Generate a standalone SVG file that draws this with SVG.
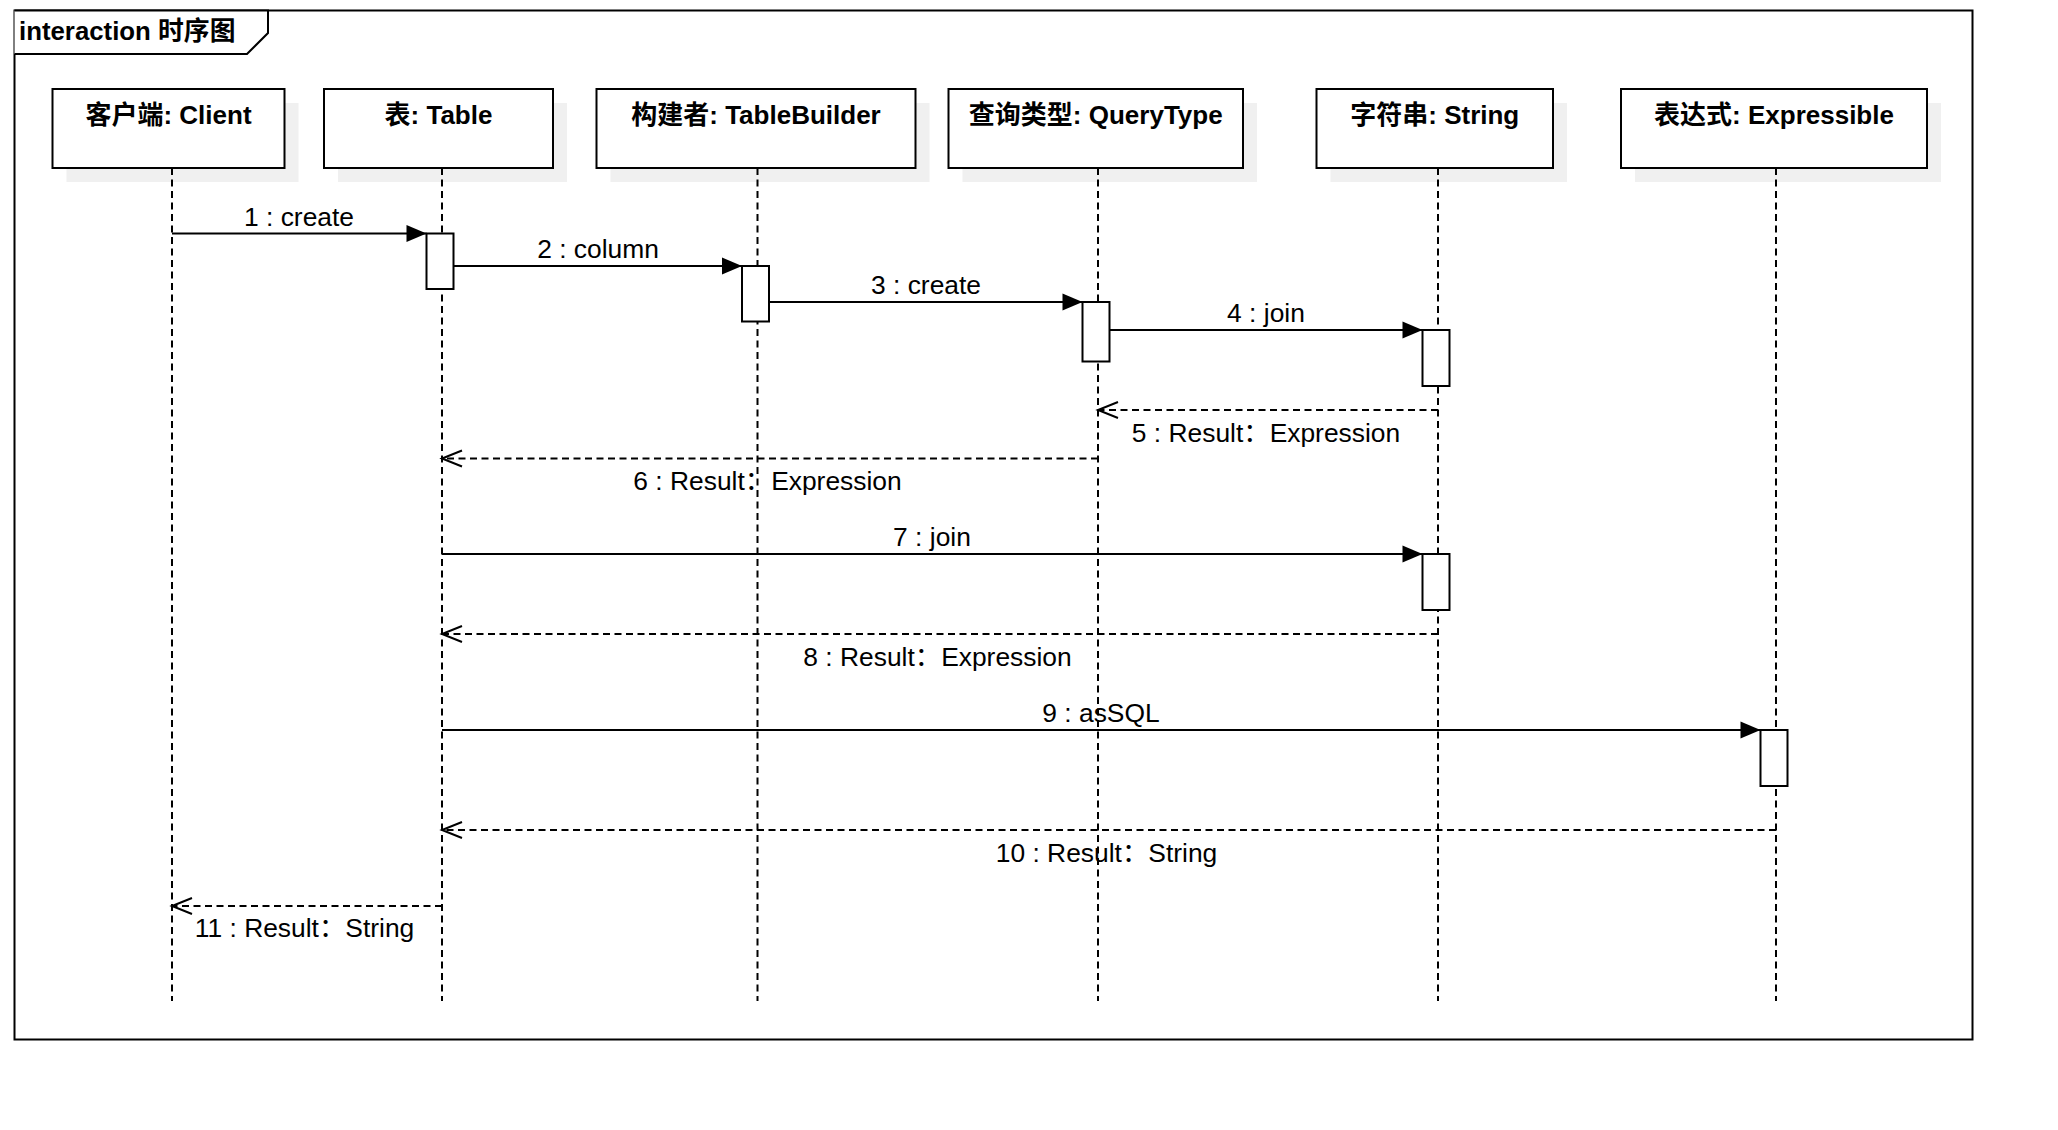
<svg xmlns="http://www.w3.org/2000/svg" width="2058" height="1130" viewBox="0 0 2058 1130">
<style>
text{font-family:"Liberation Sans","Noto Sans CJK SC",sans-serif;font-size:26px;fill:#000}
.b{font-weight:bold}
.box{fill:#fff;stroke:#000;stroke-width:2}
.sh{fill:#f0f0f0}
.life{stroke:#000;stroke-width:2;stroke-dasharray:7 4.5;fill:none}
.act{fill:#fff;stroke:#000;stroke-width:2}
.msg{stroke:#000;stroke-width:2;fill:none}
.ret{stroke:#000;stroke-width:2;stroke-dasharray:7 4.5;fill:none}
.lbl{text-anchor:middle}
.m{font-size:26.4px}
</style>
<defs>
<marker id="sync" markerUnits="userSpaceOnUse" markerWidth="22" markerHeight="18" refX="20" refY="8.5" orient="auto" overflow="visible">
<path d="M0,0 L20,8.5 L0,17 z" fill="#000"/>
</marker>
<marker id="open" markerUnits="userSpaceOnUse" markerWidth="22" markerHeight="18" refX="20" refY="8" orient="auto" overflow="visible">
<path d="M0,0 L20,8 L0,16" fill="none" stroke="#000" stroke-width="2"/>
</marker>
</defs>
<rect width="2058" height="1130" fill="#fff"/>
<g id="frame">
<rect x="14.5" y="10.5" width="1958" height="1029" fill="none" stroke="#000" stroke-width="2"/>
<path d="M14.5,10.5 L268,10.5 L268,33 L247,54 L14.5,54" fill="#fff" stroke="#000" stroke-width="2"/>
<text class="b" x="19" y="40" style="font-size:25.8px">interaction 时序图</text>
</g>
<g id="client">
<rect class="sh" x="66.5" y="103" width="232" height="79"/>
<rect class="box" x="52.5" y="89" width="232" height="79"/>
<text class="b lbl" x="168.5" y="124">客户端: Client</text>
<line class="life" x1="172" y1="168" x2="172" y2="1001"/>
</g>
<g id="table">
<rect class="sh" x="338" y="103" width="229" height="79"/>
<rect class="box" x="324" y="89" width="229" height="79"/>
<text class="b lbl" x="438.5" y="124">表: Table</text>
<line class="life" x1="442" y1="168" x2="442" y2="1001"/>
<rect class="act" x="426.5" y="233.5" width="27" height="55.5"/>
</g>
<g id="tablebuilder">
<rect class="sh" x="610.5" y="103" width="319" height="79"/>
<rect class="box" x="596.5" y="89" width="319" height="79"/>
<text class="b lbl" x="756" y="124">构建者: TableBuilder</text>
<line class="life" x1="757.5" y1="168" x2="757.5" y2="1001"/>
<rect class="act" x="742" y="266" width="27" height="55.5"/>
</g>
<g id="querytype">
<rect class="sh" x="962.5" y="103" width="294.5" height="79"/>
<rect class="box" x="948.5" y="89" width="294.5" height="79"/>
<text class="b lbl" x="1095.75" y="124">查询类型: QueryType</text>
<line class="life" x1="1098" y1="168" x2="1098" y2="1001"/>
<rect class="act" x="1082.5" y="302" width="27" height="59.5"/>
</g>
<g id="string">
<rect class="sh" x="1330.5" y="103" width="236.5" height="79"/>
<rect class="box" x="1316.5" y="89" width="236.5" height="79"/>
<text class="b lbl" x="1434.75" y="124">字符串: String</text>
<line class="life" x1="1438" y1="168" x2="1438" y2="1001"/>
<rect class="act" x="1422.5" y="330" width="27" height="56"/>
<rect class="act" x="1422.5" y="554" width="27" height="56"/>
</g>
<g id="expressible">
<rect class="sh" x="1635" y="103" width="306" height="79"/>
<rect class="box" x="1621" y="89" width="306" height="79"/>
<text class="b lbl" x="1774" y="124">表达式: Expressible</text>
<line class="life" x1="1776" y1="168" x2="1776" y2="1001"/>
<rect class="act" x="1760.5" y="730" width="27" height="56"/>
</g>
<g id="connectors">
<line class="msg" x1="172" y1="233.5" x2="426.5" y2="233.5" marker-end="url(#sync)"/>
<text class="lbl m" x="299" y="225.5">1 : create</text>
<line class="msg" x1="453.5" y1="266" x2="742" y2="266" marker-end="url(#sync)"/>
<text class="lbl m" x="598" y="258">2 : column</text>
<line class="msg" x1="769" y1="302" x2="1082.5" y2="302" marker-end="url(#sync)"/>
<text class="lbl m" x="926" y="294">3 : create</text>
<line class="msg" x1="1109.5" y1="330" x2="1422.5" y2="330" marker-end="url(#sync)"/>
<text class="lbl m" x="1266" y="322">4 : join</text>
<line class="ret" x1="1438" y1="410" x2="1098" y2="410" marker-end="url(#open)"/>
<text class="lbl m" x="1266" y="441.5">5 : Result：Expression</text>
<line class="ret" x1="1098" y1="458.5" x2="442" y2="458.5" marker-end="url(#open)"/>
<text class="lbl m" x="767.5" y="490">6 : Result：Expression</text>
<line class="msg" x1="442" y1="554" x2="1422.5" y2="554" marker-end="url(#sync)"/>
<text class="lbl m" x="932" y="546">7 : join</text>
<line class="ret" x1="1438" y1="634" x2="442" y2="634" marker-end="url(#open)"/>
<text class="lbl m" x="937.5" y="665.5">8 : Result：Expression</text>
<line class="msg" x1="442" y1="730" x2="1760.5" y2="730" marker-end="url(#sync)"/>
<text class="lbl m" x="1101" y="722">9 : asSQL</text>
<line class="ret" x1="1776" y1="830" x2="442" y2="830" marker-end="url(#open)"/>
<text class="lbl m" x="1106.5" y="861.5">10 : Result：String</text>
<line class="ret" x1="442" y1="906" x2="172" y2="906" marker-end="url(#open)"/>
<text class="lbl m" x="304.5" y="937">11 : Result：String</text>
</g>
</svg>
